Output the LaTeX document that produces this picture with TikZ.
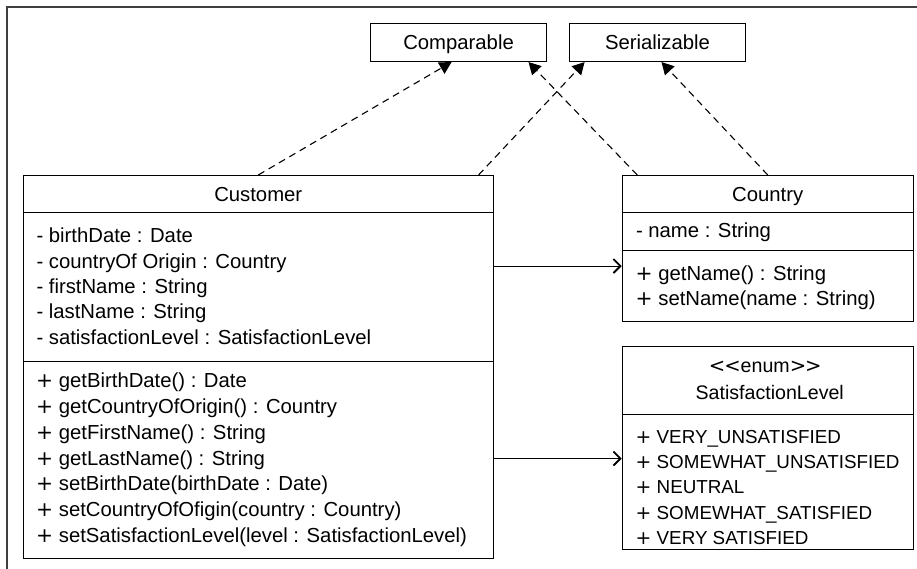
\documentclass[tikz,border=0pt]{standalone}
\usepackage{fontspec}
\setmainfont{Liberation Sans}
\newfontfamily\symfont{DejaVu Sans}
\usetikzlibrary{arrows.meta}

\newcommand\umlsize{\fontsize{20.3pt}{24pt}\selectfont}
\newcommand\enumsize{\fontsize{18.8pt}{23pt}\selectfont}
\newcommand\headsize{\fontsize{19.6pt}{23pt}\selectfont}
% visibility marker for public members
\newcommand\pl{{\symfont +}\ }

\tikzset{
  compartment/.style={draw=black, line width=1.1pt, fill=white, inner sep=0pt,
    anchor=north west, font=\umlsize, text height=14.5pt, text depth=0pt},
  member/.style={anchor=base west, inner sep=0pt, font=\umlsize},
  enumitem/.style={anchor=base west, inner sep=0pt, font=\enumsize},
  heading/.style={anchor=base, inner sep=0pt, font=\headsize},
  realize/.style={draw=black, line width=1.1pt, dash pattern=on 7pt off 5pt,
    -{Triangle[length=12pt,width=13pt]}},
  assoc/.style={draw=black, line width=1.1pt,
    -{Straight Barb[length=7pt,width=14pt,line width=1.8pt]}},
  frameline/.style={line width=1.6pt, draw=black!75, line cap=rect}
}

\begin{document}
\begin{tikzpicture}[x=1pt, y=-1pt]
\useasboundingbox (0,0) rectangle (917,569);

% outer frame (top and left edges)
\coordinate (fbl) at (7,569);
\coordinate (ftl) at (7,7.3);
\coordinate (ftr) at (917,7.3);
\draw[frameline] (fbl) -- (ftl) -- (ftr);

% interfaces
\node[compartment, minimum width=176pt, minimum height=38pt] (comp) at (370,23) {Comparable};
\node[compartment, minimum width=176pt, minimum height=38pt] (ser) at (569,23) {Serializable};

% class Customer
\node[compartment, minimum width=470pt, minimum height=37pt] (custT) at (22.7,175) {Customer};
\node[compartment, minimum width=470pt, minimum height=148.7pt] (custA) at (22.7,212) {};
\node[compartment, minimum width=470pt, minimum height=197.3pt] (custO) at (22.7,360.7) {};

\foreach \t [count=\i from 0] in {
  - birthDate : Date,
  - countryOf Origin : Country,
  - firstName : String,
  - lastName : String,
  - satisfactionLevel : SatisfactionLevel}
  \node[member] (ca\i) at (36.3,{242.7+25.4*\i}) {\t};

\foreach \t [count=\i from 0] in {
  \pl getBirthDate() : Date,
  \pl getCountryOfOrigin() : Country,
  \pl getFirstName() : String,
  \pl getLastName() : String,
  \pl setBirthDate(birthDate : Date),
  \pl setCountryOfOfigin(country : Country),
  \pl setSatisfactionLevel(level : SatisfactionLevel)}
  \node[member] (co\i) at (36,{387.7+25.8*\i}) {\t};

% class Country
\node[compartment, minimum width=291pt, minimum height=37pt] (countryT) at (621.7,175) {Country};
\node[compartment, minimum width=291pt, minimum height=38pt] (countryA) at (621.7,212) {};
\node[compartment, minimum width=291pt, minimum height=71pt] (countryO) at (621.7,250) {};
\node[member] (na0) at (635.8,237.7) {- name : String};
\node[member] (no0) at (635.5,280) {\pl getName() : String};
\node[member] (no1) at (635.5,305.7) {\pl setName(name : String)};

% enumeration SatisfactionLevel
\node[compartment, minimum width=291pt, minimum height=68.3pt] (satT) at (621.7,345.7) {};
\node[compartment, minimum width=291pt, minimum height=135.3pt] (satV) at (621.7,414) {};
\node[heading] (stereo) at ([xshift=-2.5pt]satT.center |- 0,372.7)
  {{\symfont <\kern-1pt<}enum{\symfont >\kern-1pt>}};
\node[heading] (satName) at ([xshift=2pt]satT.center |- 0,399) {SatisfactionLevel};

\foreach \t [count=\i from 0] in {
  \pl VERY\_UNSATISFIED,
  \pl SOMEWHAT\_UNSATISFIED,
  \pl NEUTRAL,
  \pl SOMEWHAT\_SATISFIED,
  \pl VERY SATISFIED}
  \node[enumitem] (sv\i) at (635.5,{443.3+25.25*\i}) {\t};

% realizations of the interfaces
\draw[realize] (custT.north) -- ([xshift=-7pt]comp.south);
\draw[realize] ([xshift=220.3pt]custT.north) -- ([xshift=-73pt]ser.south);
\draw[realize] ([xshift=-130.5pt]countryT.north) -- ([xshift=70pt]comp.south);
\draw[realize] (countryT.north) -- ([xshift=4pt]ser.south);

% associations
\coordinate (a1) at ([yshift=20.85pt]custA.east);
\draw[assoc] (a1) -- (a1 -| countryO.west);
\coordinate (a2) at ([yshift=1.35pt]custO.east);
\draw[assoc] (a2) -- (a2 -| satV.west);
\end{tikzpicture}
\end{document}
